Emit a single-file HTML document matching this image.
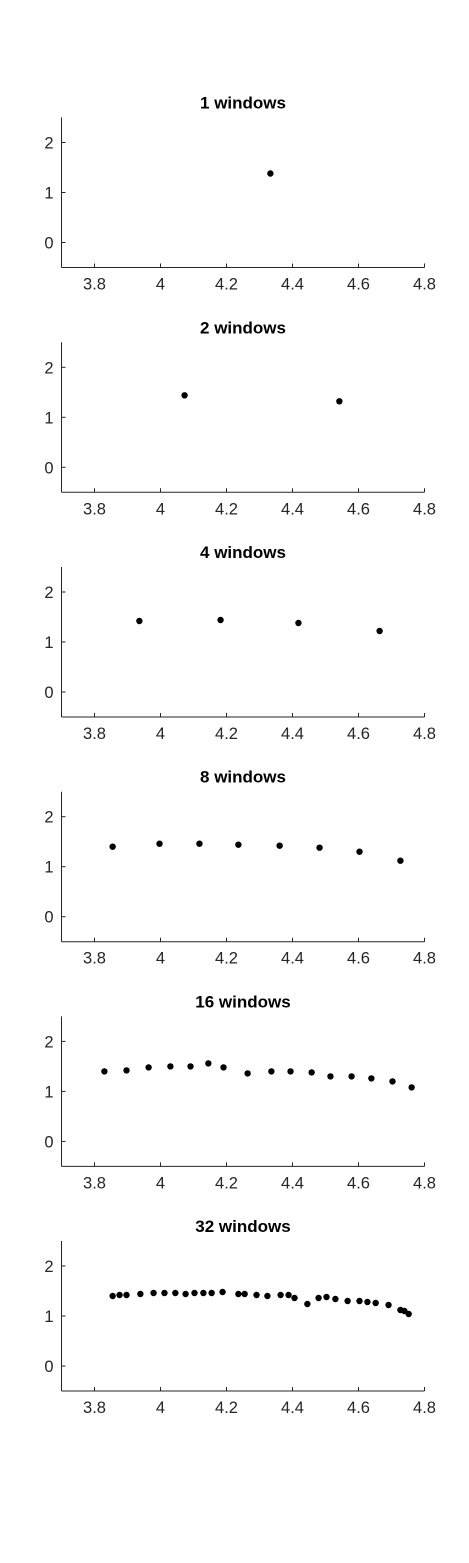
<!DOCTYPE html>
<html><head><meta charset="utf-8">
<style>
html,body{margin:0;padding:0;background:#fff;}
svg{display:block;font-family:"Liberation Sans",Arial,sans-serif;}
</style></head>
<body>
<svg id="chart" width="469" height="1563"></svg>
<script>
const panelTitles = ["1 windows","2 windows","4 windows","8 windows","16 windows","32 windows"];
const xTicks = [3.8,4,4.2,4.4,4.6,4.8];
const xTickLabels = ["3.8","4","4.2","4.4","4.6","4.8"];
const yTicks = [0,1,2];
const yTickLabels = ["0","1","2"];
const xs1 = [4.333];
const ys1 = [1.38];
const xs2 = [4.073,4.542];
const ys2 = [1.44,1.32];
const xs4 = [3.936,4.182,4.418,4.664];
const ys4 = [1.42,1.44,1.38,1.22];
const xs8 = [3.855,3.997,4.118,4.236,4.361,4.482,4.603,4.727];
const ys8 = [1.40,1.46,1.46,1.44,1.42,1.38,1.30,1.12];
const xs16 = [3.830,3.897,3.964,4.030,4.091,4.145,4.191,4.264,4.336,4.394,4.458,4.515,4.579,4.639,4.703,4.761];
const ys16 = [1.40,1.42,1.48,1.50,1.50,1.56,1.48,1.36,1.40,1.40,1.38,1.30,1.30,1.26,1.20,1.08];
const xs32 = [3.855,3.876,3.897,3.939,3.979,4.012,4.045,4.076,4.103,4.130,4.155,4.188,4.236,4.255,4.291,4.324,4.364,4.388,4.406,4.445,4.479,4.503,4.530,4.567,4.603,4.627,4.652,4.691,4.727,4.739,4.752];
const ys32 = [1.40,1.42,1.42,1.44,1.46,1.46,1.46,1.44,1.46,1.46,1.46,1.48,1.44,1.44,1.42,1.40,1.42,1.42,1.36,1.24,1.36,1.38,1.34,1.30,1.30,1.28,1.26,1.22,1.12,1.10,1.04];
const allX = [xs1,xs2,xs4,xs8,xs16,xs32];
const allY = [ys1,ys2,ys4,ys8,ys16,ys32];

const NS = "http://www.w3.org/2000/svg";
const svg = document.getElementById("chart");
const L = 61.5, R = 424.5, H = 150, xMin = 3.7, xMax = 4.8, yMin = -0.5, yMax = 2.5;
const tops = [117.5,342.3,567,791.7,1016.4,1241];
function mk(tag, attrs, parent){const e=document.createElementNS(NS,tag);for(const k in attrs)e.setAttribute(k,attrs[k]);parent.appendChild(e);return e;}
function sx(v){return L + (v-xMin)/(xMax-xMin)*(R-L);}

panelTitles.forEach((t,i)=>{
  const top = tops[i], bot = top+H;
  const sy = v => bot - (v-yMin)/(yMax-yMin)*H;
  const g = mk("g",{},svg);
  
  
  const title = mk("text",{x:(L+R)/2,y:top-9,"text-anchor":"middle","font-size":"17","font-weight":"bold",fill:"#000"},g);
  title.textContent = t;
  
  
  const xa = mk("line",{x1:L,y1:bot,x2:R,y2:bot,stroke:"#262626","stroke-width":1},g);
  
  
  const ya = mk("line",{x1:L,y1:top,x2:L,y2:bot,stroke:"#262626","stroke-width":1},g);
  
  
  xTicks.forEach((v,j)=>{
    const x = sx(v);
    const tk = mk("line",{x1:x,y1:bot,x2:x,y2:bot-4,stroke:"#262626"},g);
    
    
    const lb = mk("text",{x:x,y:bot+22,"text-anchor":"middle","font-size":"16.5",fill:"#262626"},g);
    lb.textContent = xTickLabels[j];
    
    
  });
  yTicks.forEach((v,j)=>{
    const y = sy(v);
    const tk = mk("line",{x1:L,y1:y,x2:L+4,y2:y,stroke:"#262626"},g);
    
    
    const lb = mk("text",{x:L-8,y:y+6,"text-anchor":"end","font-size":"16.5",fill:"#262626"},g);
    lb.textContent = yTickLabels[j];
    
    
  });
  allX[i].forEach((xv,k)=>{
    const c = mk("circle",{cx:sx(xv),cy:sy(allY[i][k]),r:3.2,fill:"#000"},g);
    
    
  });
});
</script>
</body></html>
